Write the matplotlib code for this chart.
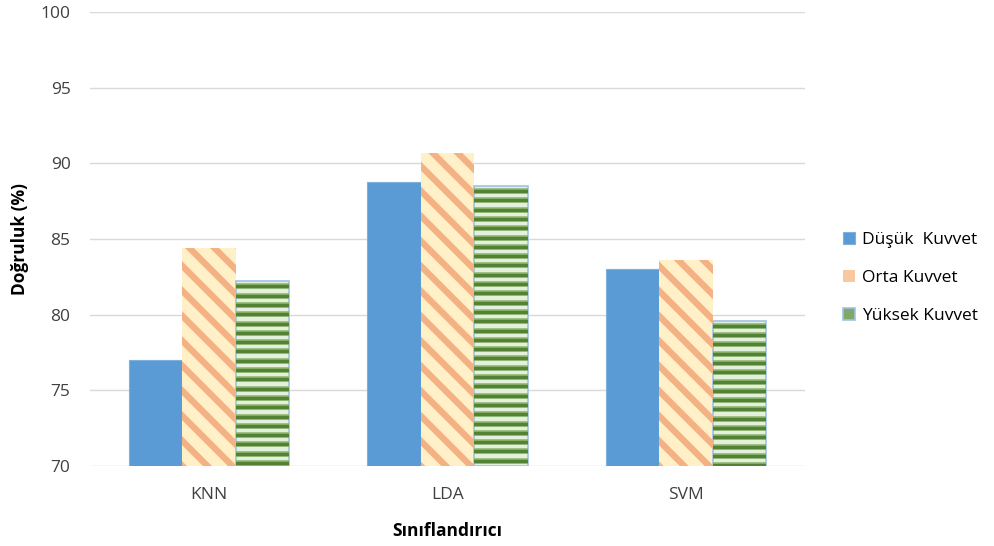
import numpy as np
import matplotlib
matplotlib.use("Agg")
import matplotlib.pyplot as plt
from matplotlib.collections import LineCollection
from matplotlib.transforms import IdentityTransform

plt.rcParams['font.family'] = ['Open Sans', 'DejaVu Sans']

categories = ["KNN", "LDA", "SVM"]
series_names = ["Düşük  Kuvvet", "Orta Kuvvet", "Yüksek Kuvvet"]
dusuk = [77.0, 88.8, 83.0]
orta = [84.4, 90.7, 83.6]
yuksek = [82.2, 88.5, 79.6]
yticks = [70, 75, 80, 85, 90, 95, 100]

fig = plt.figure(figsize=(9.94, 5.46), dpi=100)
ax = fig.add_axes([0.0905, 0.1465, 0.7195, 0.8315])
ax.set_xlim(-0.5, 2.5)
ax.set_ylim(70, 100)

x = np.arange(len(categories))
w = 0.224
base = 70

blue = "#5B9BD5"
b1 = ax.bar(x - w, np.array(dusuk) - base, w, bottom=base, color=blue,
            edgecolor="#7FAFDD", linewidth=0.8, label=series_names[0], zorder=3)
b2 = ax.bar(x, np.array(orta) - base, w, bottom=base, color="#FFF0C8",
            linewidth=0, label=series_names[1], zorder=3)
b3 = ax.bar(x + w, np.array(yuksek) - base, w, bottom=base, color="#E3F0DB",
            edgecolor="#9DC3E6", linewidth=1.2, label=series_names[2], zorder=3)


def add_clipped(lc, bar):
    ax.add_collection(lc, autolim=False)
    lc.set_clip_path(bar)


def stripes(bar, kind):
    """Pattern fill drawn in pixel space and clipped to the bar outline."""
    (x0, y0), (x1, y1) = ax.transData.transform(
        [(bar.get_x(), bar.get_y()), (bar.get_x() + bar.get_width(), bar.get_y() + bar.get_height())])
    segs = []
    if kind == "diag":
        period = 25.0
        c = x0 + y0 - period
        while c < x1 + y1 + period:
            # line going down to the right: y = c - x
            segs.append([(c - y1 - 5, y1 + 5), (c - y0 + 5, y0 - 5)])
            c += period
        lc = LineCollection(segs, colors="#F4B183", linewidths=4.6,
                            transform=IdentityTransform(), zorder=4)
        add_clipped(lc, bar)
    else:
        period = 9.3
        yy = y1 - 5
        while yy > y0:
            segs.append([(x0 - 2, yy), (x1 + 2, yy)])
            yy -= period
        lc2 = LineCollection(segs, colors="#8DB56F", linewidths=4.0,
                             transform=IdentityTransform(), zorder=3.9)
        add_clipped(lc2, bar)
        lc = LineCollection(segs, colors="#548235", linewidths=2.4,
                            transform=IdentityTransform(), zorder=4)
        add_clipped(lc, bar)


for bar in b2:
    stripes(bar, "diag")
for bar in b3:
    stripes(bar, "horiz")

fs = 12.5
ax.set_yticks(yticks)
ax.set_xticks(x)
ax.set_xticklabels(categories)
ax.tick_params(axis="both", length=0, labelsize=fs, colors="#404040")
ax.tick_params(axis="y", pad=14)
ax.tick_params(axis="x", pad=15)
ax.grid(axis="y", color="#D9D9D9", linewidth=1.0, zorder=0)
for s in ax.spines.values():
    s.set_visible(False)

ax.set_ylabel("Doğruluk (%)", fontsize=fs, fontweight="bold", labelpad=8)
ax.set_xlabel("Sınıflandırıcı", fontsize=fs, fontweight="bold", labelpad=14)

leg = ax.legend(loc="center left", bbox_to_anchor=(1.031, 0.414), frameon=False,
                fontsize=fs, handlelength=0.7, handleheight=0.7,
                handletextpad=0.4, labelspacing=1.25)
leg.get_patches()[1].set_facecolor("#F8C9A0")
leg.get_patches()[2].set_facecolor("#7FA86A")

fig.savefig("out.png", dpi=100)
